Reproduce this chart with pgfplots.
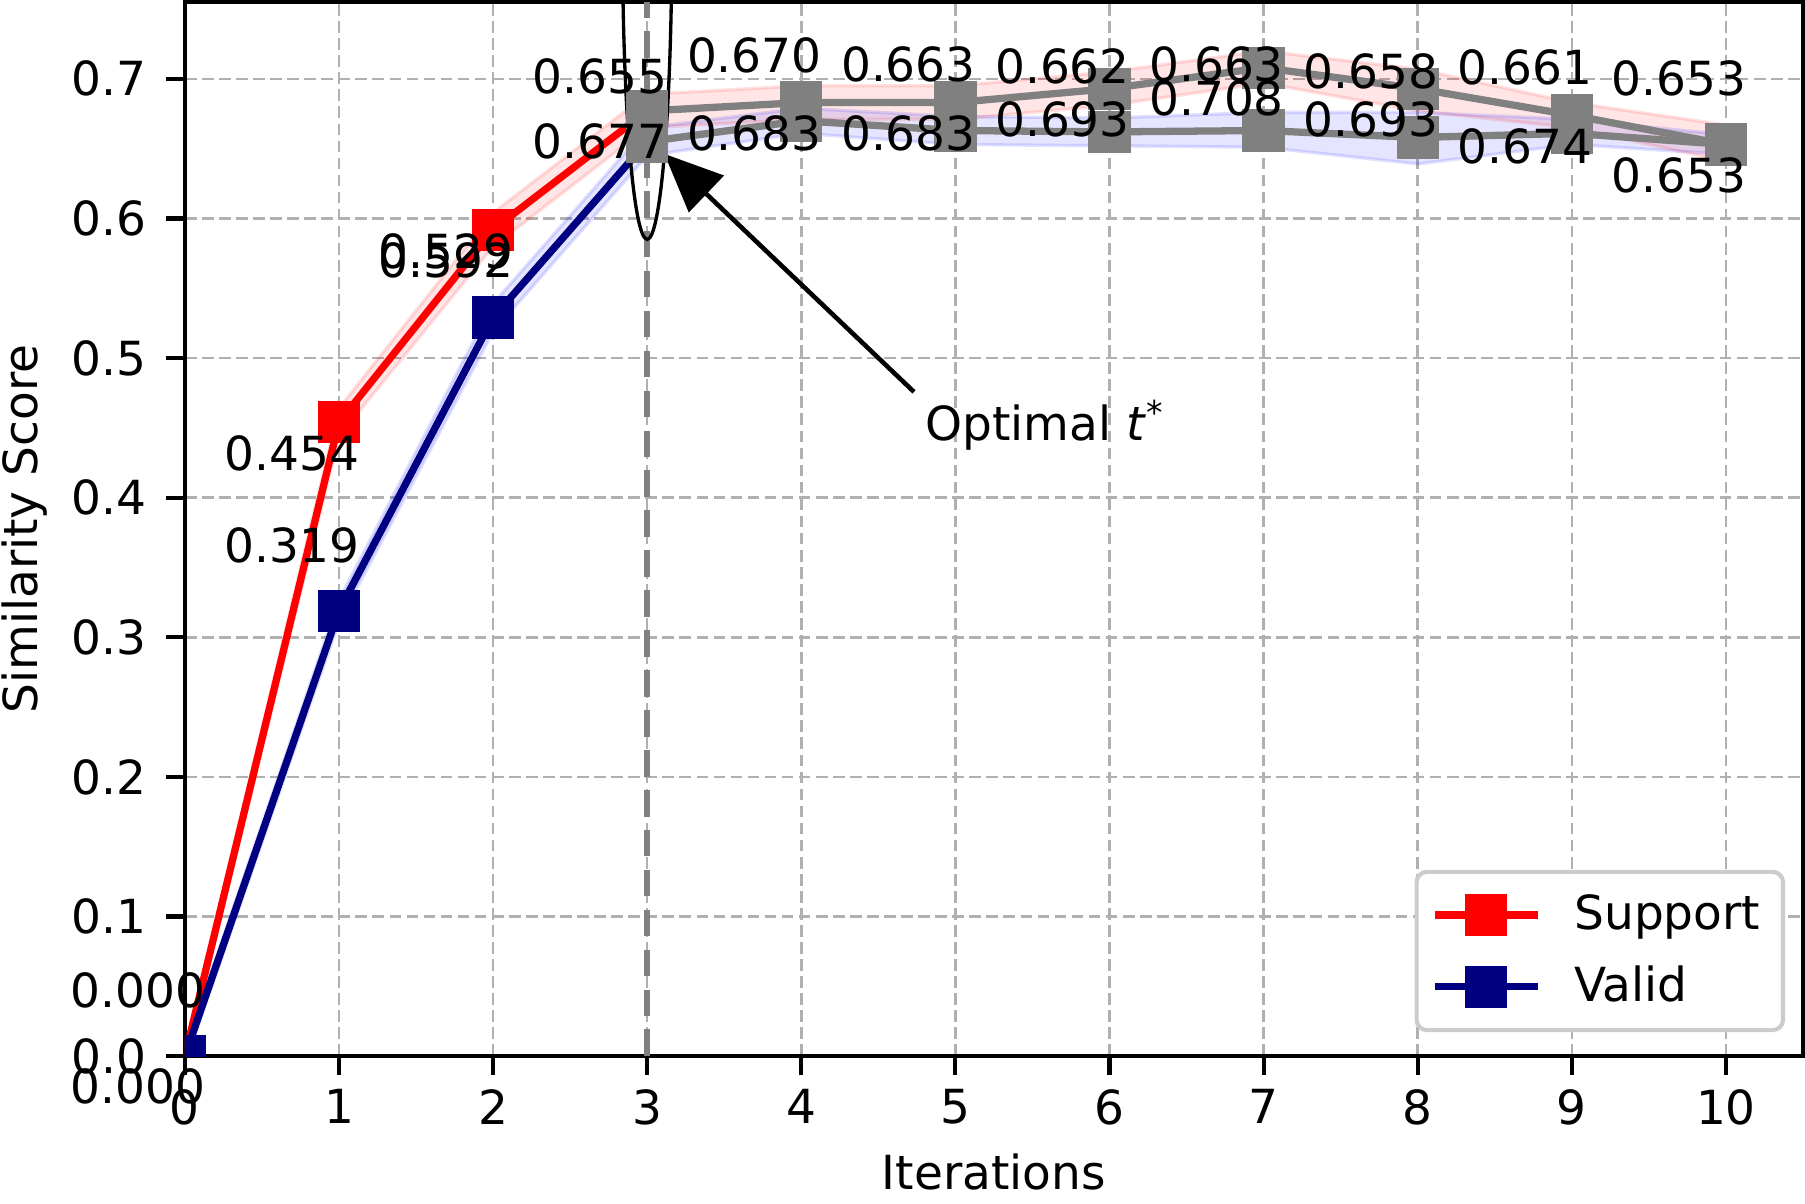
\documentclass[border=0pt]{standalone}
\usepackage{fontspec}
\setmainfont{DejaVu Sans}
\usepackage{pgfplots}
\usepackage{pgfplotstable}
\pgfplotsset{compat=1.18}
\usepgfplotslibrary{fillbetween}
\usetikzlibrary{arrows.meta}

\definecolor{navyc}{HTML}{000080}
\definecolor{greyc}{HTML}{808080}
\definecolor{gridc}{HTML}{B0B0B0}
\definecolor{legc}{HTML}{CCCCCC}
\newcommand\lf{\fontsize{11.3bp}{13.5bp}\selectfont}

% iteration, mean score, band low/high
\pgfplotstableread{
x  s     slo    shi    v     vlo    vhi
0  0.000 -0.005 0.005  0.000 -0.005 0.005
1  0.454 0.444  0.464  0.319 0.311  0.327
2  0.592 0.580  0.604  0.529 0.519  0.539
3  0.677 0.665  0.689  0.655 0.645  0.665
4  0.683 0.671  0.695  0.670 0.661  0.679
5  0.683 0.671  0.695  0.663 0.653  0.673
6  0.693 0.681  0.705  0.662 0.652  0.672
7  0.708 0.697  0.720  0.663 0.651  0.676
8  0.693 0.677  0.707  0.658 0.639  0.676
9  0.674 0.665  0.683  0.661 0.653  0.671
10 0.653 0.641  0.667  0.653 0.646  0.660
}\scores

\begin{document}
\begin{tikzpicture}
\begin{axis}[
  scale only axis, width=389bp, height=253.4bp,
  xmin=0, xmax=10.5, ymin=0, ymax=0.755,
  xtick={0,1,2,3,4,5,6,7,8,9,10},
  ytick={0,0.1,0.2,0.3,0.4,0.5,0.6,0.7},
  yticklabel style={xshift=-1.3bp, /pgf/number format/fixed, /pgf/number format/fixed zerofill, /pgf/number format/precision=1},
  /pgf/number format/assume math mode=true,
  tick label style={font=\lf},
  label style={font=\lf},
  xlabel={Iterations}, ylabel={Similarity Score},
  ylabel style={inner sep=0.5bp}, ylabel shift=1.7bp,
  grid=major, grid style={gridc, line width=0.6bp, dash pattern=on 2.8bp off 1.3bp},
  axis line style={line width=1bp},
  tick align=outside, major tick length=4.5bp, tick style={black, line width=1bp},
  xtick pos=bottom, ytick pos=left,
  legend style={at={(0.989,0.0227)}, anchor=south east, draw=legc, line width=1bp,
    rounded corners=2.5bp, fill=white, font=\lf, inner xsep=3.5bp, inner ysep=3.4bp,
    row sep=3.3bp, /tikz/every odd column/.append style={column sep=6bp}},
  legend cell align=left,
  legend image code/.code={\draw[mark repeat=2,mark phase=2] plot coordinates {(0bp,0bp)(12.35bp,0bp)(24.7bp,0bp)};},
]
% bands
\addplot[name path=shi, red, draw opacity=0.12, line width=0.8bp, forget plot] table[x=x,y=shi]{\scores};
\addplot[name path=slo, red, draw opacity=0.12, line width=0.8bp, forget plot] table[x=x,y=slo]{\scores};
\addplot[red, fill opacity=0.1, forget plot] fill between[of=shi and slo];
\addplot[name path=vhi, blue, draw opacity=0.12, line width=0.8bp, forget plot] table[x=x,y=vhi]{\scores};
\addplot[name path=vlo, blue, draw opacity=0.12, line width=0.8bp, forget plot] table[x=x,y=vlo]{\scores};
\addplot[blue, fill opacity=0.1, forget plot] fill between[of=vhi and vlo];
% optimal iteration
\addplot[greyc, line width=1.5bp, dash pattern=on 6.4bp off 3.2bp, forget plot] coordinates {(3,0) (3,0.755)};
% before t*
\addplot[red, line width=1.75bp, mark=square*, mark size=4.2bp, mark options={solid}, clip marker paths=true]
  table[x=x,y=s, restrict x to domain=0:3]{\scores};
\addlegendentry{Support}
\addplot[navyc, line width=1.75bp, mark=square*, mark size=4.2bp, mark options={solid}, clip marker paths=true]
  table[x=x,y=v, restrict x to domain=0:3]{\scores};
\addlegendentry{Valid}
% after t*
\addplot[greyc, line width=1.75bp, mark=square*, mark size=4.2bp, forget plot]
  table[x=x,y=s, restrict x to domain=3:10]{\scores};
\addplot[greyc, line width=1.75bp, mark=square*, mark size=4.2bp, forget plot]
  table[x=x,y=v, restrict x to domain=3:10]{\scores};
% value labels
\addplot[draw=none, mark=none, forget plot, point meta=y, nodes near coords,
  nodes near coords style={anchor=center, text=black, font=\lf, inner sep=0pt, xshift=-11.3bp, yshift=-7.4bp,
    /pgf/number format/fixed, /pgf/number format/fixed zerofill, /pgf/number format/precision=3}]
  table[x=x,y=s]{\scores};
\addplot[draw=none, mark=none, forget plot, point meta=y, nodes near coords,
  nodes near coords style={anchor=center, text=black, font=\lf, inner sep=0pt, xshift=-11.3bp, yshift=15.8bp,
    /pgf/number format/fixed, /pgf/number format/fixed zerofill, /pgf/number format/precision=3}]
  table[x=x,y=v]{\scores};
% annotation
\draw[black, line width=0.8bp] (axis cs:3,0.80) ellipse [x radius=0.16, y radius=0.215];
\draw[black, line width=1.1bp, -{Triangle[length=14bp, width=12bp]}] (axis cs:4.731,0.4758) -- (axis cs:3.111,0.6463);
\node[anchor=west, inner sep=0pt, font=\lf] at (axis cs:4.80,0.452) {Optimal \textit{t}\textsuperscript{*}};
\end{axis}
\end{tikzpicture}
\end{document}
